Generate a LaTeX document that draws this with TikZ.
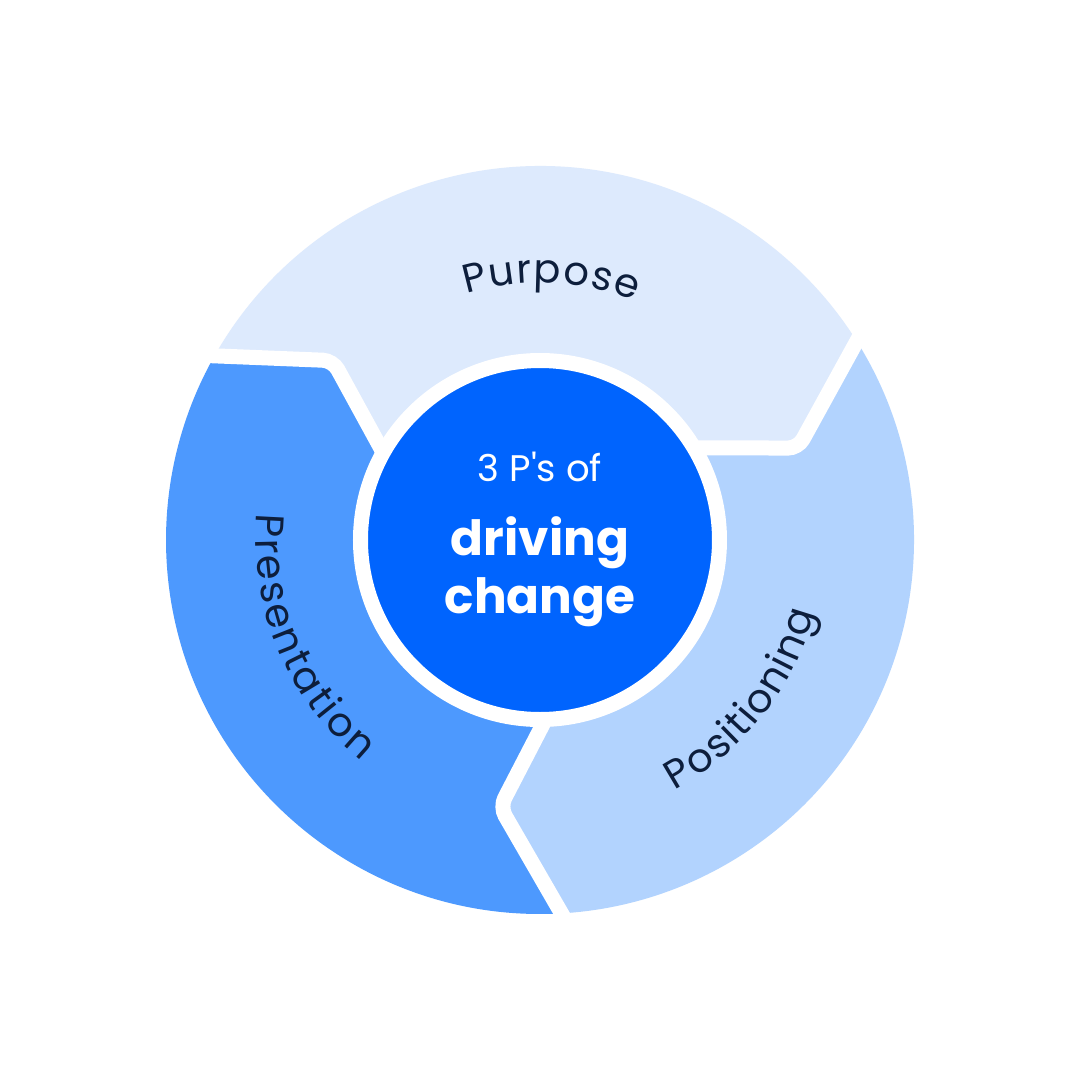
\documentclass[tikz,border=0pt]{standalone}
\usepackage{fontspec}
\setmainfont{Poppins}
\newfontfamily\hubfont{Poppins}[Ligatures=TeXOff]
\usetikzlibrary{calc}
\definecolor{cPurpose}{HTML}{DDEAFD}
\definecolor{cPosition}{HTML}{B2D3FE}
\definecolor{cPresent}{HTML}{4D99FE}
\definecolor{cHub}{HTML}{0064FE}
\definecolor{navy}{HTML}{0D1E3C}
\newcommand\lblfont{\fontsize{40}{44}\selectfont}
\newdimen\chw
\newdimen\accd
% measure letter centres (outside the picture, where fonts are active)
\newcommand\measureword[3]{%
  \global\accd=0pt
  \foreach \ch [count=\k] in {#3}{%
    \settowidth{\chw}{\lblfont\ch}%
    \global\advance\accd by 0.5\chw
    \expandafter\xdef\csname aw#1\k\endcsname{\the\accd}%
    \global\advance\accd by 0.5\chw
    \global\advance\accd by #2pt\relax
  }%
  \global\advance\accd by -#2pt\relax
  \expandafter\xdef\csname aw#1tot\endcsname{\the\accd}%
}
% place letters along an arc: name, radius, centre angle, direction, letters
\newcommand\placeword[5]{%
  \foreach \ch [count=\k] in {#5}{%
    \pgfmathsetmacro\ang{#3+#4*(\csname aw#1\k\endcsname-0.5*\csname aw#1tot\endcsname)/#2*57.29578}%
    \pgfmathsetmacro\rot{\ang+#4*90}%
    \node[lbl, rotate=\rot] (#1\k) at (\ang:#2) {\ch};}%
}
\tikzset{
  lbl/.style={font=\lblfont, text=navy, inner sep=0pt, anchor=base},
  band/.style={draw=white, line width=15, rounded corners=10},
  hubtext/.style={text=white, inner sep=0pt, anchor=base},
}
\begin{document}%
\measureword{pur}{1.5}{P,u,r,p,o,s,e}%
\measureword{pre}{2.6}{P,r,e,s,e,n,t,a,t,i,o,n}%
\measureword{pos}{1.5}{P,o,s,i,t,i,o,n,i,n,g}%
\begin{tikzpicture}[x=1pt,y=1pt]
\fill[white] (-540,-540) rectangle (540,540);
\useasboundingbox (-540,-540) rectangle (540,540);
% boundary points
\coordinate (o1) at (32.1:374);  \coordinate (t1) at (19.6:274);  \coordinate (i1) at (29.9:185);
\coordinate (o2) at (-86.7:374); \coordinate (t2) at (-98.5:270); \coordinate (i2) at (-89.2:185);
\coordinate (o3) at (150.5:374); \coordinate (t3) at (139.1:274); \coordinate (i3) at (149.8:185);
% segments
\fill[cPurpose] (o3) arc[start angle=150.5, end angle=32.1, radius=374] -- (t1) -- (i1)
  arc[start angle=29.9, end angle=149.8, radius=185] -- (t3) -- cycle;
\fill[cPosition] (o1) arc[start angle=32.1, end angle=-86.7, radius=374] -- (t2) -- (i2)
  arc[start angle=-89.2, end angle=29.9, radius=185] -- (t1) -- cycle;
\fill[cPresent] (o2) arc[start angle=-86.7, end angle=-209.5, radius=374] -- (t3) -- (i3)
  arc[start angle=-210.2, end angle=-89.2, radius=185] -- (t2) -- cycle;
% white separating bands
\draw[band] ($(t1)!1.25!(o1)$) -- (t1) -- ($(t1)!1.3!(i1)$);
\draw[band] ($(t2)!1.25!(o2)$) -- (t2) -- ($(t2)!1.3!(i2)$);
\draw[band] ($(t3)!1.25!(o3)$) -- (t3) -- ($(t3)!1.3!(i3)$);
% hub
\node[circle, inner sep=0pt, minimum size=359, fill=cHub, draw=white, line width=15] (hub) at (0,0) {};
\node[hubtext, font=\hubfont\fontsize{37}{40}\selectfont] (c1) at (0,59) {3 P's of};
\node[hubtext, font=\fontsize{48.5}{54}\selectfont\bfseries] (c2) at (0,-15) {driving};
\node[hubtext, font=\fontsize{48.5}{54}\selectfont\bfseries] (c3) at (0,-73) {change};
% curved labels
\placeword{pur}{257}{87.5}{-1}{P,u,r,p,o,s,e}
\placeword{pre}{284}{202.9}{1}{P,r,e,s,e,n,t,a,t,i,o,n}
\placeword{pos}{284}{-38.2}{1}{P,o,s,i,t,i,o,n,i,n,g}
\end{tikzpicture}
\end{document}
